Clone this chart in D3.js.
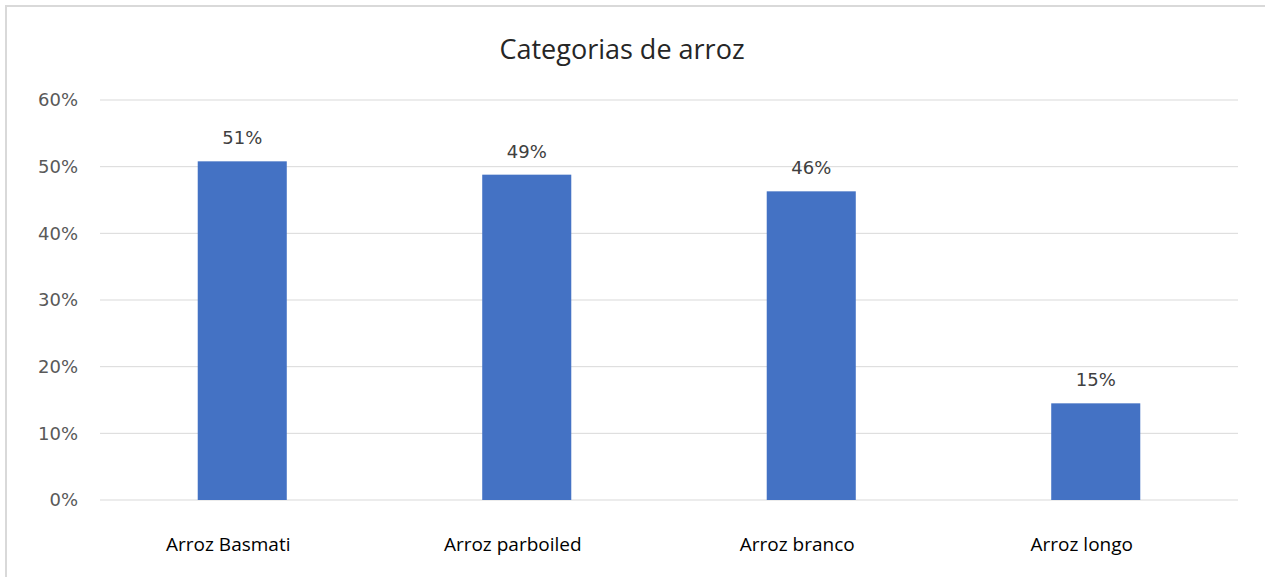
<!DOCTYPE html>
<html>
<head>
<meta charset="utf-8" />
<title>Categorias de arroz</title>
<style>
    body { margin: 0; background: #fff; }
</style>
</head>
<body>
<div id="container"></div>
<script src="https://cdn.jsdelivr.net/npm/d3@7"></script>
<script>
    const categories = ['Arroz Basmati', 'Arroz parboiled', 'Arroz branco', 'Arroz longo']
    const values = [0.508, 0.488, 0.463, 0.145]
    const labels = ['51%', '49%', '46%', '15%']
    const ticks = [0, 0.1, 0.2, 0.3, 0.4, 0.5, 0.6]

    const W = 1265, H = 577
    const margin = { top: 100, right: 27, bottom: 77, left: 100 }
    const width = W - margin.left - margin.right
    const height = H - margin.top - margin.bottom

    let svg = d3.select('#container').append('svg').attr('width', W).attr('height', H)

    // cut-off heading above the chart (only the descender shows)
    svg.append('text').attr('x', 110).attr('y', -8)
        .style('font-family', 'Open Sans, sans-serif').style('font-size', '26px').style('font-weight', 'bold')
        .attr('fill', '#000').text('g')

    // chart border (right side is cut off)
    svg.append('rect').attr('x', 6).attr('y', 6).attr('width', W + 10).attr('height', H + 10)
        .attr('fill', 'none').attr('stroke', '#d9d9d9').attr('stroke-width', 2)

    svg.append('text').attr('x', 622).attr('y', 59).attr('text-anchor', 'middle')
        .style('font-family', 'Open Sans, Noto Sans, sans-serif').style('font-size', '27px').attr('fill', '#262626')
        .text('Categorias de arroz')

    let chart = svg.append('g').attr('transform', `translate(${margin.left},${margin.top})`)

    let xScale = d3.scaleBand().domain(categories).range([0, width])
    let yScale = d3.scaleLinear().domain([0, 0.6]).range([height, 0])

    // gridlines
    chart.append('g').selectAll('line').data(ticks).enter().append('line')
        .attr('x1', 0).attr('x2', width)
        .attr('y1', d => yScale(d)).attr('y2', d => yScale(d))
        .attr('stroke', '#d9d9d9').attr('stroke-width', 1)

    let yAxis = d3.axisLeft(yScale).tickValues(ticks).tickFormat(d3.format('.0%')).tickSize(0).tickPadding(22)
    let gy = chart.append('g').call(yAxis)
    gy.select('.domain').remove()
    gy.selectAll('text').style('font-family', 'DejaVu Sans, sans-serif').style('font-size', '18px').attr('fill', '#595959')

    let xAxis = d3.axisBottom(xScale).tickSize(0).tickPadding(38)
    let gx = chart.append('g').attr('transform', `translate(0, ${height})`).call(xAxis)
    gx.select('.domain').remove()
    gx.selectAll('text').attr('dx', -14)
        .style('font-family', 'Open Sans, Noto Sans, sans-serif').style('font-size', '19px').attr('fill', '#000')

    const barW = xScale.bandwidth() * 0.313

    chart.selectAll('.bar').data(values).enter().append('rect')
        .attr('class', 'bar')
        .attr('x', (d, i) => xScale(categories[i]) + xScale.bandwidth() / 2 - barW / 2)
        .attr('y', d => yScale(d))
        .attr('width', barW)
        .attr('height', d => height - yScale(d))
        .attr('fill', '#4472C4')

    chart.selectAll('.lbl').data(values).enter().append('text')
        .attr('class', 'lbl')
        .attr('x', (d, i) => xScale(categories[i]) + xScale.bandwidth() / 2)
        .attr('y', d => yScale(d) - 17)
        .attr('text-anchor', 'middle')
        .style('font-family', 'DejaVu Sans, sans-serif').style('font-size', '18px').attr('fill', '#404040')
        .text((d, i) => labels[i])
</script>
</body>
</html>
